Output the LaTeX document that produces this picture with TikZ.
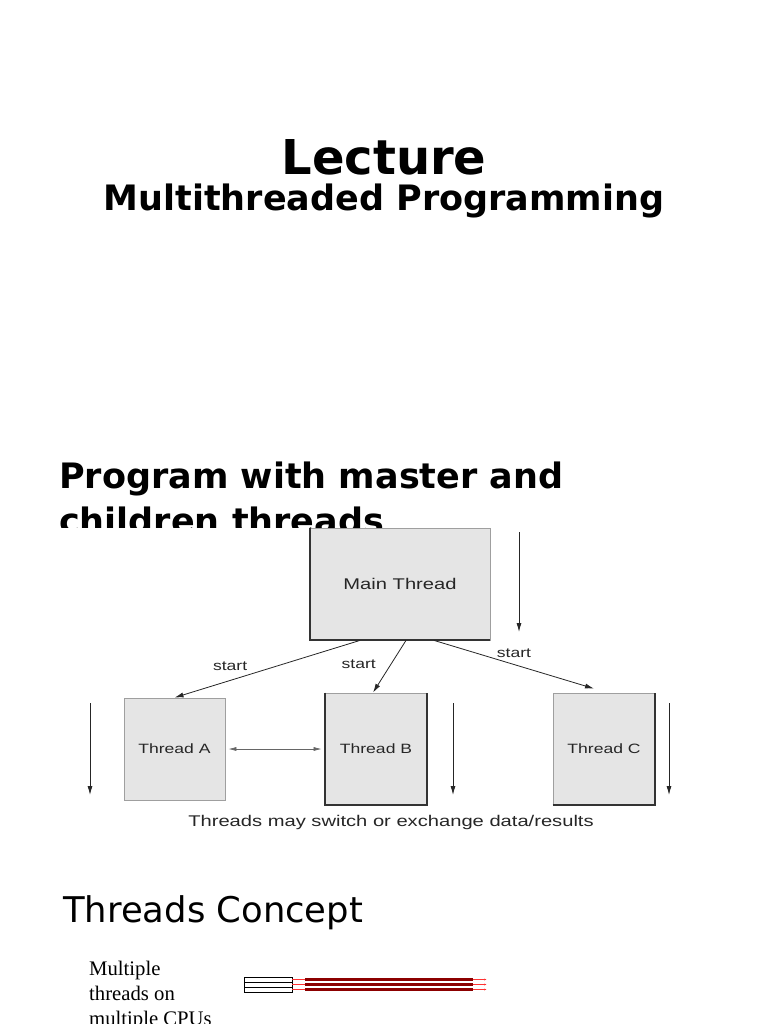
\documentclass[tikz,border=0pt]{standalone}
\usepackage{fontspec}
\setmainfont{DejaVu Sans}
\newfontfamily\labelfont[FakeStretch=1.3]{Liberation Sans}
\newfontfamily\seriffont{Liberation Serif}
\usetikzlibrary{positioning,arrows.meta}

\tikzset{
    threadbox/.style={draw=gray!75, fill=gray!20, line width=0.8pt, inner sep=0pt,
        font=\labelfont\fontsize{13.5}{16}\selectfont, text=black!85},
    heavy/.style={draw=black!80, line width=2pt},
    flow/.style={-{Latex[length=9pt,width=5pt]}, line width=0.8pt, draw=black!85},
    lbl/.style={font=\labelfont\fontsize{13.5}{16}\selectfont, text=black!85, inner sep=1pt}
}

\begin{document}
\begin{tikzpicture}[x=1pt, y=-1pt]
    \useasboundingbox (0,0) rectangle (768,1024);

    % titles
    \node[font=\bfseries\fontsize{48}{56}\selectfont, anchor=base, inner sep=0pt] (lecture) at (384,175) {Lecture};
    \node[font=\bfseries\fontsize{35}{42}\selectfont, anchor=base, inner sep=0pt] (subtitle) at (384,211) {Multithreaded Programming};

    \begin{scope}
        \clip (0,440) rectangle (768,527);
        \node[font=\bfseries\fontsize{35}{45}\selectfont, align=left, anchor=north west, inner sep=0pt]
            (heading) at (59,462) {Program with master and\\children threads};
    \end{scope}

    % main thread and children
    \node[threadbox, minimum width=180pt, minimum height=112pt, font=\labelfont\fontsize{15.5}{18}\selectfont]
        (main) at (400,584) {Main Thread};
    \node[threadbox, minimum width=101pt, minimum height=102pt] (threadA) at (174.5,749) {Thread A};
    \node[threadbox, minimum width=102pt, minimum height=112pt] (threadB) at (376,749) {Thread B};
    \node[threadbox, minimum width=102pt, minimum height=112pt] (threadC) at (604,749) {Thread C};

    % darker edges
    \draw[heavy] (main.north west) -- (main.south west) -- (main.south east);
    \draw[heavy] (threadB.north west) -- (threadB.south west) -- (threadB.south east) -- (threadB.north east);
    \draw[heavy] (threadC.south west) -- (threadC.south east) -- (threadC.north east);

    % start arrows
    \draw[flow] ([xshift=-40pt]main.south) -- node[lbl, pos=0.7, above=8pt] {start} (threadA.north);
    \draw[flow] ([xshift=6pt]main.south) -- node[lbl, pos=0.45, left=14pt] {start} ([xshift=-3pt]threadB.north);
    \draw[flow] ([xshift=34pt]main.south) -- node[lbl, pos=0.5, above=5pt] {start} ([xshift=-10pt,yshift=4pt]threadC.north);

    % time arrows
    \coordinate (tm1) at (519,532);  \coordinate (tm2) at (519,632);
    \coordinate (ta1) at (90,703);   \coordinate (ta2) at (90,795);
    \coordinate (tb1) at (453,703);  \coordinate (tb2) at (453,795);
    \coordinate (tc1) at (669,703);  \coordinate (tc2) at (669,795);
    \foreach \s/\e in {tm1/tm2, ta1/ta2, tb1/tb2, tc1/tc2}
        \draw[flow] (\s) -- (\e);

    % exchange
    \draw[{Latex[length=8pt,width=4pt]}-{Latex[length=8pt,width=4pt]}, draw=black!60, line width=0.6pt,
        shorten <=3pt, shorten >=3pt] (threadA.east) -- (threadB.west);

    \node[lbl, font=\labelfont\fontsize{15.5}{18}\selectfont] (caption) at (391,822) {Threads may switch or exchange data/results};

    % threads concept
    \node[font=\fontsize{35.4}{42}\selectfont, anchor=base west, inner sep=0pt] (concept) at (63,922) {Threads Concept};
    \node[font=\seriffont\fontsize{20.7}{25}\selectfont, align=left, anchor=north west, inner sep=0pt]
        (multi) at (89,961) {Multiple\\threads on\\multiple CPUs};

    % cpu strips
    \foreach \y in {979.5,984.5,989.5} {
        \draw[black, line width=0.6pt, fill=white] (244,\y-2.5) rectangle (292,\y+2.5);
        \draw[red!80, line width=0.8pt, -{Latex[length=3pt,width=2pt]}] (292,\y) -- (487,\y);
        \draw[red!55!black, line width=2.2pt] (305,\y) -- (473,\y);
    }
\end{tikzpicture}
\end{document}
